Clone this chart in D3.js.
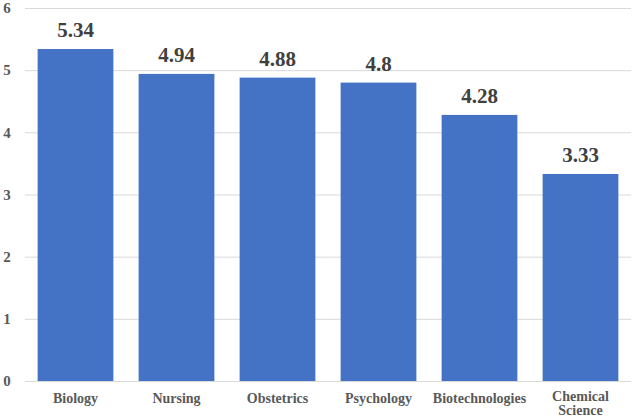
<!DOCTYPE html>
<html>
<head>
<meta charset="utf-8">
<script src="https://cdn.jsdelivr.net/npm/d3@7"></script>
<style>
  body { margin: 0; background: #fff; overflow: hidden; }
  text { font-family: "Liberation Serif", "DejaVu Serif", serif; font-weight: bold; }
</style>
</head>
<body>
<div class="canvas"></div>
<script>
const categories = ['Biology', 'Nursing', 'Obstetrics', 'Psychology', 'Biotechnologies', 'Chemical Science'];
const values = [5.34, 4.94, 4.88, 4.8, 4.28, 3.33];
const valueLabels = ['5.34', '4.94', '4.88', '4.8', '4.28', '3.33'];
const yTicks = [0, 1, 2, 3, 4, 5, 6];

const dims = {width: 632, height: 420};
const margin = {top: 8, right: 1, bottom: 39, left: 25};

const svg = d3.select('.canvas')
    .append('svg')
    .attr('width', dims.width)
    .attr('height', dims.height)
    .style('display', 'block');

const x = d3.scaleBand()
    .domain(categories)
    .range([margin.left, dims.width - margin.right])
    .paddingInner(0.25)
    .paddingOuter(0.125);

const y = d3.scaleLinear()
    .domain([0, 6])
    .range([dims.height - margin.bottom, margin.top]);

//gridlines
svg.append('g')
    .selectAll('line')
    .data(yTicks)
    .enter()
    .append('line')
        .attr('x1', margin.left)
        .attr('x2', dims.width - margin.right)
        .attr('y1', d => y(d) + 0.5)
        .attr('y2', d => y(d) + 0.5)
        .attr('stroke', '#d9d9d9')
        .attr('stroke-width', 1);

//y tick labels
svg.append('g')
    .selectAll('text')
    .data(yTicks)
    .enter()
    .append('text')
        .attr('x', 7)
        .attr('y', d => y(d))
        .attr('dy', '0.35em')
        .attr('text-anchor', 'middle')
        .attr('font-size', 15)
        .attr('fill', '#595959')
        .text(d => d);

//bars
svg.append('g')
    .selectAll('rect')
    .data(values)
    .enter()
    .append('rect')
        .attr('x', (d, i) => x(categories[i]))
        .attr('y', d => y(d))
        .attr('width', x.bandwidth())
        .attr('height', d => y(0) - y(d))
        .attr('fill', '#4472c4');

//value labels
svg.append('g')
    .selectAll('text')
    .data(values)
    .enter()
    .append('text')
        .attr('x', (d, i) => x(categories[i]) + x.bandwidth() / 2)
        .attr('y', d => y(d) - 12)
        .attr('text-anchor', 'middle')
        .attr('font-size', 21)
        .attr('fill', '#404040')
        .text((d, i) => valueLabels[i]);

//category labels, wrapped on space for the long two-word name
const catGroup = svg.append('g');
categories.forEach(c => {
    const lines = c === 'Chemical Science' ? c.split(' ') : [c];
    const t = catGroup.append('text')
        .attr('x', x(c) + x.bandwidth() / 2)
        .attr('y', lines.length > 1 ? 401 : 403)
        .attr('text-anchor', 'middle')
        .attr('font-size', 14)
        .attr('fill', '#595959');
    lines.forEach((l, i) => {
        t.append('tspan')
            .attr('x', x(c) + x.bandwidth() / 2)
            .attr('dy', i === 0 ? 0 : 14)
            .text(l);
    });
});
</script>
</body>
</html>
